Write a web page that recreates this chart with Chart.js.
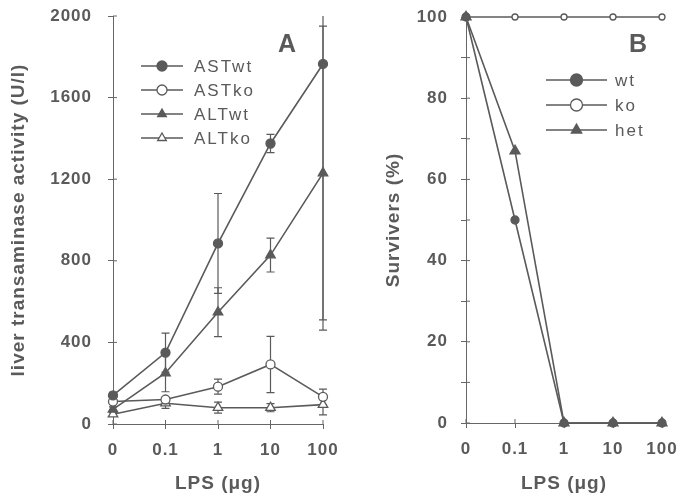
<!DOCTYPE html>
<html>
<head>
<meta charset="utf-8">
<script src="https://cdn.jsdelivr.net/npm/chart.js@4.4.0/dist/chart.umd.min.js"></script>
<style>
  body { margin: 0; background: #fff; }
  #painelA { position: absolute; left: 0; top: 0; }
  #painelB { position: absolute; left: 340px; top: 0; }
</style>
</head>
<body>
<canvas id="painelA" width="340" height="495"></canvas>
<canvas id="painelB" width="338" height="495"></canvas>
<script>
const doses = ['0', '0.1', '1', '10', '100'];

// painel A - atividade das transaminases (U/l), media e erro
const astWt = [140, 350, 885, 1375, 1765];
const astWtErro = [15, 95, 245, 45, 1305];
const astKo = [110, 120, 183, 292, 133];
const astKoErro = [12, 12, 37, 138, 38];
const altWt = [72, 250, 548, 828, 1230];
const altWtErro = [12, 92, 120, 83, 720];
const altKo = [48, 102, 80, 80, 95];
const altKoErro = [8, 25, 27, 20, 50];

// painel B - sobreviventes (%)
const sobrevWt = [100, 50, 0, 0, 0];
const sobrevKo = [100, 100, 100, 100, 100];
const sobrevHet = [100, 67, 0, 0, 0];

const cinza = '#5a5a5a';
const cinzaEixo = '#666';
const fonte = "'Liberation Sans', Arial, sans-serif";

Chart.defaults.font.family = fonte;
Chart.defaults.color = cinza;

// espacamento entre letras, parecido com o original
const espacamento = {
  id: 'espacamento',
  beforeUpdate(chart) { chart.ctx.letterSpacing = '1px'; },
  beforeDraw(chart) { chart.ctx.letterSpacing = '1px'; }
};

const barrasErro = {
  id: 'barrasErro',
  beforeDatasetsDraw(chart) {
    const { ctx, chartArea, scales: { x, y } } = chart;
    ctx.save();
    ctx.beginPath();
    ctx.rect(chartArea.left - 10, chartArea.top, chartArea.width + 20, chartArea.height);
    ctx.clip();
    ctx.strokeStyle = cinza;
    ctx.lineWidth = 1.2;
    chart.data.datasets.forEach(ds => {
      if (!ds.erros) return;
      ds.data.forEach((v, i) => {
        const px = x.getPixelForValue(i);
        const cima = y.getPixelForValue(v + ds.erros[i]);
        const baixo = y.getPixelForValue(v - ds.erros[i]);
        ctx.beginPath();
        ctx.moveTo(px, cima); ctx.lineTo(px, baixo);
        ctx.moveTo(px - 4, cima); ctx.lineTo(px + 4, cima);
        ctx.moveTo(px - 4, baixo); ctx.lineTo(px + 4, baixo);
        ctx.stroke();
      });
    });
    ctx.restore();
  }
};

// marcas de escala para dentro do grafico
const marcasInternas = {
  id: 'marcasInternas',
  beforeDatasetsDraw(chart) {
    const { ctx, chartArea, scales: { x, y } } = chart;
    ctx.save();
    ctx.strokeStyle = cinzaEixo;
    ctx.lineWidth = 1;
    ctx.beginPath();
    y.ticks.forEach((t, i) => {
      const py = y.getPixelForTick(i);
      ctx.moveTo(chartArea.left, py); ctx.lineTo(chartArea.left + 4, py);
    });
    x.ticks.forEach((t, i) => {
      const px = x.getPixelForTick(i);
      ctx.moveTo(px, chartArea.bottom); ctx.lineTo(px, chartArea.bottom - 4);
    });
    ctx.stroke();
    ctx.restore();
  }
};

const legendaInterna = {
  id: 'legendaInterna',
  afterDraw(chart, args, opts) {
    const { ctx } = chart;
    ctx.save();
    ctx.letterSpacing = '2px';
    ctx.font = '17px ' + fonte;
    ctx.textBaseline = 'middle';
    chart.data.datasets.forEach((ds, i) => {
      const yy = opts.y + i * opts.passo;
      ctx.strokeStyle = ds.borderColor;
      ctx.lineWidth = 1.3;
      ctx.beginPath();
      ctx.moveTo(opts.x1, yy); ctx.lineTo(opts.x2, yy);
      ctx.stroke();
      ctx.fillStyle = ds.pointBackgroundColor;
      Chart.helpers.drawPoint(ctx, {
        pointStyle: ds.pointStyle, radius: opts.raio, borderWidth: 1.3, rotation: 0
      }, (opts.x1 + opts.x2) / 2, yy);
      ctx.fillStyle = cinza;
      ctx.fillText(ds.label, opts.xTexto, yy + 1);
    });
    ctx.font = 'bold 25px ' + fonte;
    ctx.textAlign = 'center';
    ctx.letterSpacing = '0px';
    ctx.fillText(opts.letra, opts.letraX, opts.letraY);
    ctx.restore();
  }
};

function serie(label, data, estilo, cheio, raio, erros) {
  return {
    label, data, erros,
    borderColor: cinza,
    borderWidth: 1.6,
    pointStyle: estilo,
    pointRadius: raio,
    pointBorderWidth: 1.3,
    pointBackgroundColor: cheio ? cinza : '#fff',
    pointBorderColor: cinza,
    tension: 0,
    clip: false
  };
}

function eixoX(altura) {
  return {
    type: 'category',
    offset: false,
    grid: { drawOnChartArea: false, tickLength: 5, color: cinzaEixo },
    border: { color: cinzaEixo, width: 1 },
    ticks: { color: cinza, font: { size: 17, weight: 'bold' }, padding: 11, maxRotation: 0, autoSkip: false },
    title: { display: true, text: 'LPS (μg)', color: cinza, font: { size: 19, weight: 'bold' }, padding: { top: 0, bottom: 0 } },
    afterFit: s => { s.height = altura; s.paddingLeft = 0; s.paddingRight = 0; }
  };
}

new Chart(document.getElementById('painelA'), {
  type: 'line',
  data: {
    labels: doses,
    datasets: [
      serie('ASTwt', astWt, 'circle', true, 4.5, astWtErro),
      serie('ASTko', astKo, 'circle', false, 4.5, astKoErro),
      serie('ALTwt', altWt, 'triangle', true, 5.5, altWtErro),
      serie('ALTko', altKo, 'triangle', false, 5.5, altKoErro)
    ]
  },
  options: {
    responsive: false,
    animation: false,
    layout: { padding: { left: 0, right: 17, top: 16, bottom: 0 } },
    scales: {
      x: eixoX(71),
      y: {
        min: 0, max: 2000,
        grid: { drawOnChartArea: false, tickLength: 5, color: cinzaEixo },
        border: { color: cinzaEixo, width: 1 },
        ticks: { stepSize: 400, color: cinza, font: { size: 17, weight: 'bold' }, padding: 16,
          callback: v => String(v) },
        title: { display: true, text: 'liver transaminase activity (U/l)', color: cinza, font: { size: 19, weight: 'bold' }, padding: { top: 7, bottom: 0 } },
        afterFit: s => { s.width = 113; s.paddingTop = 0; s.paddingBottom = 0; }
      }
    },
    plugins: {
      legend: { display: false },
      tooltip: { enabled: false },
      legendaInterna: { x1: 141, x2: 183, xTexto: 194, y: 66, passo: 24, raio: 5, letra: 'A', letraX: 287, letraY: 45 }
    }
  },
  plugins: [espacamento, marcasInternas, barrasErro, legendaInterna]
});

const dsWt = serie('wt', sobrevWt, 'circle', true, 4, null);
const dsKo = serie('ko', sobrevKo, 'circle', false, 3, null);
const dsHet = serie('het', sobrevHet, 'triangle', true, 5.8, null);
dsHet.order = 0; dsWt.order = 1; dsKo.order = 2;

new Chart(document.getElementById('painelB'), {
  type: 'line',
  data: {
    labels: doses,
    datasets: [dsWt, dsKo, dsHet]
  },
  options: {
    responsive: false,
    animation: false,
    layout: { padding: { left: 0, right: 16, top: 17, bottom: 0 } },
    scales: {
      x: eixoX(72),
      y: {
        min: 0, max: 100,
        grid: { drawOnChartArea: false, tickLength: 5, color: cinzaEixo },
        border: { color: cinzaEixo, width: 1 },
        ticks: { stepSize: 10, color: cinza, font: { size: 17, weight: 'bold' }, padding: 13,
          callback: v => (v % 20 === 0 ? String(v) : '') },
        title: { display: true, text: 'Survivers (%)', color: cinza, font: { size: 19, weight: 'bold' }, padding: { top: 42, bottom: 0 } },
        afterFit: s => { s.width = 126; s.paddingTop = 0; s.paddingBottom = 0; }
      }
    },
    plugins: {
      legend: { display: false },
      tooltip: { enabled: false },
      legendaInterna: { x1: 206, x2: 267, xTexto: 275, y: 80, passo: 25, raio: 6, letra: 'B', letraX: 298, letraY: 45 }
    }
  },
  plugins: [espacamento, marcasInternas, barrasErro, legendaInterna]
});
</script>
</body>
</html>
